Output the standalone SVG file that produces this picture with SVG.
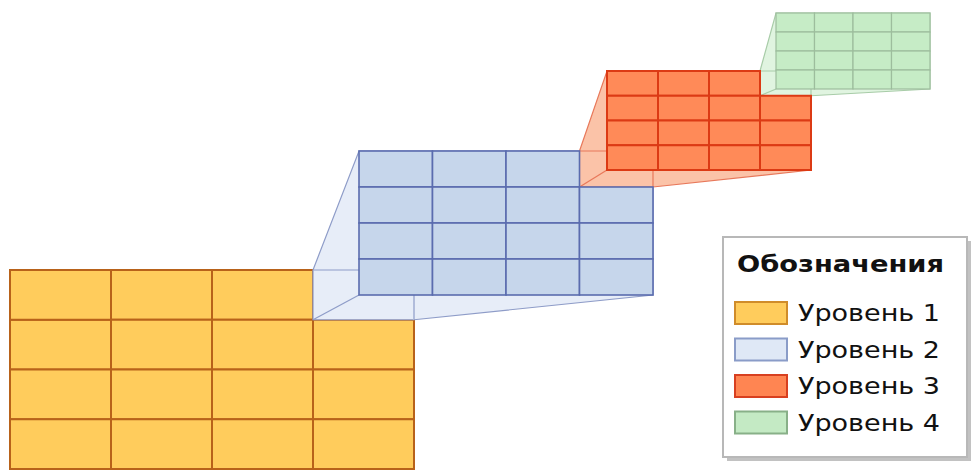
<svg xmlns="http://www.w3.org/2000/svg" width="972" height="470" viewBox="0 0 972 470">
<style>
.l1{fill:#FFCC5C;stroke:#B8621A;stroke-width:2}
.l2{fill:#C6D6EB;stroke:#5A6CAE;stroke-width:1.6}
.l3{fill:#FF8A58;stroke:#DC3A14;stroke-width:2}
.l4{fill:#C6ECC6;stroke:#9DBD9D;stroke-width:1.2}
.p2{fill:#E7EDF8;stroke:#8E9CC8;stroke-width:1.2}
.p3{fill:#FBC3A8;stroke:#E8785A;stroke-width:1.2}
.p4{fill:#E0F4E0;stroke:#A8CCA8;stroke-width:1.2}
.t{font-family:"DejaVu Sans","Liberation Sans",sans-serif;fill:#111}
</style>
<rect width="972" height="470" fill="#fff"/>
<g id="level1">
<rect class="l1" x="10" y="319.75" width="101" height="49.75"/>
<rect class="l1" x="111" y="270" width="101" height="49.75"/>
<rect class="l1" x="212" y="270" width="101" height="49.75"/>
<rect class="l1" x="10" y="270" width="101" height="49.75"/>
<rect class="l1" x="111" y="319.75" width="101" height="49.75"/>
<rect class="l1" x="212" y="319.75" width="101" height="49.75"/>
<rect class="l1" x="313" y="319.75" width="101" height="49.75"/>
<rect class="l1" x="10" y="369.5" width="101" height="49.75"/>
<rect class="l1" x="111" y="369.5" width="101" height="49.75"/>
<rect class="l1" x="212" y="369.5" width="101" height="49.75"/>
<rect class="l1" x="313" y="369.5" width="101" height="49.75"/>
<rect class="l1" x="10" y="419.25" width="101" height="49.75"/>
<rect class="l1" x="111" y="419.25" width="101" height="49.75"/>
<rect class="l1" x="212" y="419.25" width="101" height="49.75"/>
<rect class="l1" x="313" y="419.25" width="101" height="49.75"/>
</g>
<g id="connectors">
<polygon class="p2" points="313,270 359,151 653,151 653,295 414,319.75 313,319.75"/>
<polyline class="p2" fill="none" points="313,270 414,270 414,319.75"/>
<line class="p2" x1="313" y1="319.75" x2="359" y2="295"/>
<polygon class="p3" points="579.5,151 607,71 811,71 811,170 653,187 579.5,187"/>
<polyline class="p3" fill="none" points="579.5,151 653,151 653,187"/>
<line class="p3" x1="579.5" y1="187" x2="607" y2="170"/>
<polygon class="p4" points="760,71 776,13 930,13 930,89 811,95.75 760,95.75"/>
<polyline class="p4" fill="none" points="760,71 811,71 811,95.75"/>
<line class="p4" x1="760" y1="95.75" x2="776" y2="89"/>
</g>
<g id="level2">
<rect class="l2" x="359" y="151" width="73.5" height="36"/>
<rect class="l2" x="432.5" y="151" width="73.5" height="36"/>
<rect class="l2" x="506" y="151" width="73.5" height="36"/>
<rect class="l2" x="359" y="187" width="73.5" height="36"/>
<rect class="l2" x="432.5" y="187" width="73.5" height="36"/>
<rect class="l2" x="506" y="187" width="73.5" height="36"/>
<rect class="l2" x="579.5" y="187" width="73.5" height="36"/>
<rect class="l2" x="359" y="223" width="73.5" height="36"/>
<rect class="l2" x="432.5" y="223" width="73.5" height="36"/>
<rect class="l2" x="506" y="223" width="73.5" height="36"/>
<rect class="l2" x="579.5" y="223" width="73.5" height="36"/>
<rect class="l2" x="359" y="259" width="73.5" height="36"/>
<rect class="l2" x="432.5" y="259" width="73.5" height="36"/>
<rect class="l2" x="506" y="259" width="73.5" height="36"/>
<rect class="l2" x="579.5" y="259" width="73.5" height="36"/>
</g>
<g id="level3">
<rect class="l3" x="607" y="71" width="51" height="24.75"/>
<rect class="l3" x="658" y="71" width="51" height="24.75"/>
<rect class="l3" x="709" y="71" width="51" height="24.75"/>
<rect class="l3" x="607" y="95.75" width="51" height="24.75"/>
<rect class="l3" x="658" y="95.75" width="51" height="24.75"/>
<rect class="l3" x="709" y="95.75" width="51" height="24.75"/>
<rect class="l3" x="760" y="95.75" width="51" height="24.75"/>
<rect class="l3" x="607" y="120.5" width="51" height="24.75"/>
<rect class="l3" x="658" y="120.5" width="51" height="24.75"/>
<rect class="l3" x="709" y="120.5" width="51" height="24.75"/>
<rect class="l3" x="760" y="120.5" width="51" height="24.75"/>
<rect class="l3" x="607" y="145.25" width="51" height="24.75"/>
<rect class="l3" x="658" y="145.25" width="51" height="24.75"/>
<rect class="l3" x="709" y="145.25" width="51" height="24.75"/>
<rect class="l3" x="760" y="145.25" width="51" height="24.75"/>
</g>
<g id="level4">
<rect class="l4" x="776" y="13" width="38.5" height="19"/>
<rect class="l4" x="814.5" y="13" width="38.5" height="19"/>
<rect class="l4" x="853" y="13" width="38.5" height="19"/>
<rect class="l4" x="891.5" y="13" width="38.5" height="19"/>
<rect class="l4" x="776" y="32" width="38.5" height="19"/>
<rect class="l4" x="814.5" y="32" width="38.5" height="19"/>
<rect class="l4" x="853" y="32" width="38.5" height="19"/>
<rect class="l4" x="891.5" y="32" width="38.5" height="19"/>
<rect class="l4" x="776" y="51" width="38.5" height="19"/>
<rect class="l4" x="814.5" y="51" width="38.5" height="19"/>
<rect class="l4" x="853" y="51" width="38.5" height="19"/>
<rect class="l4" x="891.5" y="51" width="38.5" height="19"/>
<rect class="l4" x="776" y="70" width="38.5" height="19"/>
<rect class="l4" x="814.5" y="70" width="38.5" height="19"/>
<rect class="l4" x="853" y="70" width="38.5" height="19"/>
<rect class="l4" x="891.5" y="70" width="38.5" height="19"/>
</g>
<g id="legend">
<rect x="727" y="241" width="244" height="220" fill="#9a9a9a" opacity="0.6"/>
<rect x="723" y="237" width="244" height="220" fill="#fff" stroke="#b8b8b8" stroke-width="2"/>
<text class="t" x="737" y="272" font-size="23" font-weight="bold" textLength="207" lengthAdjust="spacingAndGlyphs">Обозначения</text>
<rect x="735" y="302" width="52" height="22" fill="#FFCC5C" stroke="#D08C2A" stroke-width="2"/>
<rect x="735" y="338.5" width="52" height="22" fill="#DFE8F6" stroke="#8A9CC8" stroke-width="2"/>
<rect x="735" y="375" width="52" height="22" fill="#FF8552" stroke="#D84020" stroke-width="2"/>
<rect x="735" y="411.5" width="52" height="22" fill="#C4EAC4" stroke="#88B088" stroke-width="2"/>
<text class="t" x="798" y="321" font-size="23" textLength="142" lengthAdjust="spacingAndGlyphs">Уровень 1</text>
<text class="t" x="798" y="357.5" font-size="23" textLength="142" lengthAdjust="spacingAndGlyphs">Уровень 2</text>
<text class="t" x="798" y="394" font-size="23" textLength="142" lengthAdjust="spacingAndGlyphs">Уровень 3</text>
<text class="t" x="798" y="430.5" font-size="23" textLength="142" lengthAdjust="spacingAndGlyphs">Уровень 4</text>
</g>
</svg>
